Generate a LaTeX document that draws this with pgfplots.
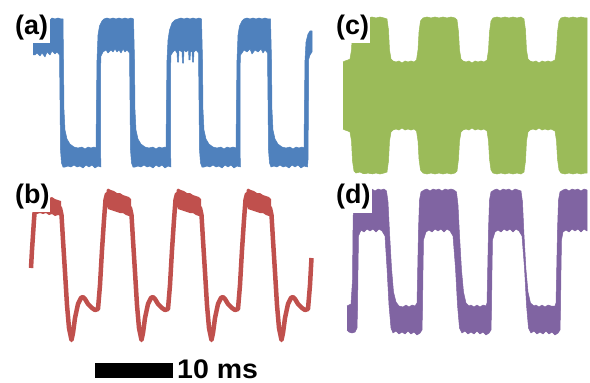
\documentclass[border=0pt]{standalone}
\usepackage{fontspec}
\setmainfont{Liberation Sans}
\usepackage{pgfplots}
\pgfplotsset{compat=1.18}
\definecolor{cblue}{RGB}{79,129,189}
\definecolor{cred}{RGB}{192,80,77}
\definecolor{cgreen}{RGB}{155,187,89}
\definecolor{cpurple}{RGB}{128,100,162}
\begin{document}
\begin{tikzpicture}
\useasboundingbox (0,0) rectangle (590bp,383bp);
\begin{axis}[at={(0,0)},anchor=south west,width=590bp,height=383bp,scale only axis,
  xmin=0,xmax=590,ymin=0,ymax=383,y dir=reverse,hide axis,clip=false]
% ---------- (a) blue ----------
\addplot[fill=cblue,draw=cblue,line width=0.5bp,line join=round] coordinates {
(33,21) (40,20) (50,20) (52,18) (55,19) (58,18) (61,19) (63,19)
(63.5,60) (64,110) (65,130) (67,139) (70,144) (74,147) (78,148) (82,147) (85,149) (88,147) (91,148) (94,147) (96,148)
(96.5,100) (97,60) (98,35) (99.5,26) (102,21) (104,19) (107,18) (110,19) (113,18) (116,19) (119,18) (122,19) (125,18) (128,19) (131,18) (133.5,19)
(134.5,60) (135,110) (136,130) (138,139) (141,144) (145,147) (149,148) (153,147) (156,149) (159,147) (162,148) (165,147) (166,148)
(166.5,100) (167,60) (168,40) (169.5,30) (172,23) (175,20) (178,19) (181,18) (184,19) (187,18) (190,19) (193,18) (196,19) (199,18) (201.5,19)
(202.5,60) (203,110) (204,130) (206,139) (209,144) (213,147) (217,148) (221,147) (224,149) (227,147) (230,148) (233,147) (236,148)
(236.5,100) (237,60) (238,35) (239.5,26) (242,21) (244,19) (247,18) (250,19) (253,18) (256,19) (259,18) (262,19) (265,18) (268,19) (270.5,19)
(271.5,60) (272,110) (273,130) (275,139) (278,144) (282,147) (286,148) (290,147) (293,149) (296,147) (299,148) (302,147) (304,148)
(304.5,100) (305,60) (306,42) (308,34) (310,31) (312,31)
(312,52) (310,55) (308.5,60) (308.5,100) (308,160) (307.5,167)
(304,166) (301,168) (298,165) (295,167) (292,165) (289,168) (286,166) (283,167) (280,165) (277,167) (274,166) (271,167)
(269.5,163) (268.5,150) (268,100) (267.5,53)
(265,50) (263,53) (261,49) (258,52) (255,50) (252,54) (250,49) (247,52) (244,50) (242,53) (240.5,55)
(240,70) (240,150) (240.5,167)
(237,166) (234,168) (231,165) (228,167) (225,165) (222,168) (219,166) (216,167) (213,165) (210,167) (207,166) (204,167) (202,167)
(200.5,163) (199.5,150) (199,100) (198.5,53)
(196,50) (194,52) (193.5,62) (192.5,62) (192,51) (190.5,52) (190,60) (189,60) (188.5,50) (186,52) (184,50) (183.5,63) (182.5,63) (182,52) (179,50) (178.5,62) (177.5,62) (177,53) (175,50) (173,52) (171,55)
(170.5,70) (170.5,150) (171,167)
(168,166) (165,168) (162,165) (159,167) (156,165) (153,168) (150,166) (147,167) (144,165) (141,167) (138,166) (135,167) (133,167)
(131.5,163) (130.5,150) (130,100) (129.5,53)
(127,50) (125,52) (123,49) (121,53) (119,50) (117,52) (115,49) (113,52) (111,50) (108,53) (106,50) (103,52) (101,56)
(100.5,70) (100.5,150) (101,167)
(98,166) (95,168) (92,165) (89,167) (86,165) (83,168) (80,166) (77,167) (74,165) (71,167) (68,166) (65,167) (63,167)
(61.5,163) (60.5,150) (60,100) (59.5,55)
(57,52) (55,54) (52,51) (50,55) (47,52) (45,57) (42,53) (40,56) (37,53) (35,55) (33,55)
};
% ---------- (b) red ----------
\addplot[cred,line width=4.5bp,line join=round] coordinates {
(31,268) (32,250) (34,220) (35.5,200) (37,194) (39,199) (49,203) (60,208) (61.5,215) (63,240) (65,272) (67,305) (69,328) (71.5,340) (73,333) (75,318) (78,304) (81,298) (83,297) (85,299) (88,304) (92,308) (95,310) (98,309)
(100,285) (102,250) (104,220) (105.5,200) (107,194) (109,199) (119,203) (130,208) (131.5,215) (133,240) (135,272) (137,305) (139,328) (141.5,340) (143,333) (145,318) (148,304) (151,298) (153,297) (155,299) (158,304) (162,308) (165,310) (168,309)
(170,285) (172,250) (174,220) (175.5,200) (177,194) (179,199) (189,203) (200,208) (201.5,215) (203,240) (205,272) (207,305) (209,328) (211.5,340) (213,333) (215,318) (218,304) (221,298) (223,297) (225,299) (228,304) (232,308) (235,310) (238,309)
(240,285) (242,250) (244,220) (245.5,200) (247,194) (249,199) (259,203) (270,208) (271.5,215) (273,240) (275,272) (277,305) (279,328) (281.5,340) (283,333) (285,318) (288,304) (291,298) (293,297) (295,299) (298,304) (302,308) (305,310) (308,309)
(310,285) (311.5,258)
};
\addplot[fill=cred,draw=none] coordinates {
(33,196) (37,195) (40,196) (43,197) (46,196) (49,198) (52,197) (55,199) (58,200) (61,201)
(61.5,216) (58,215) (55,216) (52,214) (49,215) (46,213) (43,214) (40,213) (37,214) (33,214)};
\addplot[fill=cred,draw=none] coordinates {
(106.5,190) (108,188.5) (111,190) (114,191) (117,193) (120,193) (123,195) (126,196) (129,197) (131,199)
(131.5,217) (129,216) (126,215) (123,213) (120,213) (117,212) (114,211) (111,210) (108,209) (106.5,205)};
\addplot[fill=cred,draw=none] coordinates {
(176.5,190) (178,188.5) (181,190) (184,191) (187,193) (190,193) (193,195) (196,196) (199,197) (201,199)
(201.5,217) (199,216) (196,215) (193,213) (190,213) (187,212) (184,211) (181,210) (178,209) (176.5,205)};
\addplot[fill=cred,draw=none] coordinates {
(246.5,190) (248,188.5) (251,190) (254,191) (257,193) (260,193) (263,195) (266,196) (269,197) (271,199)
(271.5,217) (269,216) (266,215) (263,213) (260,213) (257,212) (254,211) (251,210) (248,209) (246.5,205)};
% ---------- (c) green ----------
\addplot[fill=cgreen,draw=cgreen,line width=0.5bp] coordinates {
(343,62) (345,61) (348,60) (350,59) (351.5,50) (352.5,30) (354,20) (356,18) (360,19) (364,17) (368,18) (372,17) (376,18) (380,17) (384,18) (387,19) (388.5,30) (389.5,50) (391,59) (393,61) (396,62) (399,61) (402,63) (405,61) (408,62) (411,61) (414,62) (416.5,60) (418,50) (419,32) (420.5,21) (423,18) (427,17) (431,18) (435,17) (439,18) (443,17) (447,18) (451,17) (455,18) (457,20) (458.5,32) (459.5,50) (461,59) (463,61) (466,62) (469,61) (472,63) (475,61) (478,62) (481,61) (484,62) (487,60) (488.5,50) (489.5,32) (491,21) (493,18) (497,17) (501,18) (505,17) (509,18) (513,17) (517,18) (521,17) (524,19) (525.5,30) (526.5,50) (528,59) (530,61) (533,62) (536,61) (539,63) (542,61) (545,62) (548,61) (551,62) (555,60) (556.5,50) (557.5,32) (559,21) (561,18) (565,17) (569,18) (573,17) (577,18) (581,17) (585,18) (587,18)
(587,173) (585,173) (581,174) (577,173) (573,174) (569,173) (565,174) (561,173) (559,170) (557.5,159) (556.5,141) (555,131) (551,129) (548,130) (545,129) (542,130) (539,128) (536,130) (533,129) (530,130) (528,132) (526.5,141) (525.5,161) (524,172) (521,174) (517,173) (513,174) (509,173) (505,174) (501,173) (497,174) (493,173) (491,170) (489.5,159) (488.5,141) (487,131) (484,129) (481,130) (478,129) (475,130) (472,128) (469,130) (466,129) (463,130) (461,132) (459.5,141) (458.5,159) (457,171) (455,173) (451,174) (447,173) (443,174) (439,173) (435,174) (431,173) (427,174) (423,173) (420.5,170) (419,159) (418,141) (416.5,131) (414,129) (411,130) (408,129) (405,130) (402,128) (399,130) (396,129) (393,130) (391,132) (389.5,141) (388.5,161) (387,172) (384,173) (380,174) (376,173) (372,174) (368,173) (364,174) (360,172) (356,173) (354,171) (352.5,161) (351.5,141) (350,132) (348,131) (345,130) (343,129)
};
% ---------- (d) purple ----------
\addplot[fill=cpurple,draw=cpurple,line width=0.5bp,line join=round] coordinates {
(347,306) (349,305) (351,304) (352.5,280) (353,230) (353.5,200) (355,192) (357,190) (360,189) (363,191) (366,189) (369,190) (372,189) (375,191) (378,189) (381,190) (384,189) (386.5,191)
(388,202) (389.5,232) (391.5,268) (393.5,292) (396,302) (399,306) (403,307) (406,305) (409,307) (412,305) (415,306) (417,303)
(417.5,280) (418.5,230) (419.5,200) (421,192) (424,190) (427,189) (430,191) (433,189) (436,190) (439,189) (442,191) (445,189) (448,190) (451,189) (454,190) (456.5,192)
(458,205) (459.5,235) (461.5,270) (463.5,292) (466,303) (469,306) (471,305) (474,307) (477,305) (480,307) (483,305) (486,306) (487,303)
(487.5,280) (488.5,230) (489.5,200) (491,192) (494,190) (497,189) (500,191) (503,189) (506,190) (509,189) (512,191) (515,189) (518,190) (521,191)
(522.5,202) (524,235) (526,270) (528,292) (530.5,303) (534,306) (536,305) (539,307) (542,305) (545,307) (548,305) (551,306) (555,306) (556,303)
(556.5,280) (557.5,230) (558.5,200) (560,192) (563,190) (566,189) (569,191) (572,189) (575,190) (578,189) (581,191) (584,189) (587,190)
(587,231) (584,229) (581,232) (578,229) (575,231) (572,229) (569,232) (566,230) (563,232) (561.5,240) (561,270) (560.5,310) (560,330) (558,333) (555,335) (552,332) (549,334) (546,331) (543,334) (540,332) (537,334) (534,331) (531,333)
(528.5,328) (526.5,305) (524.5,268) (522,236) (519,231) (516,229) (513,232) (510,229) (507,231) (504,229) (501,232) (498,230) (495,232) (492.5,240) (492,270) (491.5,310) (491,330) (489,333) (486,335) (483,332) (480,334) (477,331) (474,334) (471,332) (468,334) (465,331) (462,333)
(459.5,328) (457.5,305) (455.5,268) (453,236) (450,231) (447,229) (444,232) (441,229) (438,231) (435,229) (432,232) (429,230) (426,232) (423.5,240) (423,270) (422.5,310) (422,330) (420,333) (417,335) (414,332) (411,334) (408,331) (405,334) (402,332) (399,334) (396,331) (393,333)
(391,328) (389,305) (387,268) (385,236) (382,231) (379,229) (376,232) (373,229) (370,231) (367,229) (364,232) (361,230) (358.5,236) (358,270) (357.5,310) (357,328) (355,332) (352,333) (349,332) (347,330)
};
% ---------- labels ----------
\fill[white] (axis cs:8,4) rectangle (axis cs:50,43);
\fill[white] (axis cs:8,174) rectangle (axis cs:50,212);
\fill[white] (axis cs:328,4) rectangle (axis cs:370,43);
\fill[white] (axis cs:328,174) rectangle (axis cs:372,213);
\node[anchor=base west,inner sep=0pt,font=\bfseries\fontsize{27}{27}\selectfont] at (axis cs:15,34.5) {(a)};
\node[anchor=base west,inner sep=0pt,font=\bfseries\fontsize{27}{27}\selectfont] at (axis cs:15,203) {(b)};
\node[anchor=base west,inner sep=0pt,font=\bfseries\fontsize{27}{27}\selectfont] at (axis cs:336,34.5) {(c)};
\node[anchor=base west,inner sep=0pt,font=\bfseries\fontsize{27}{27}\selectfont] at (axis cs:336,203) {(d)};
\fill[black] (axis cs:95,363) rectangle (axis cs:173,377.5);
\node[anchor=base west,inner sep=0pt,font=\bfseries\fontsize{27}{27}\selectfont] at (axis cs:177,378) {\scalebox{1.06}[1]{10 ms}};
\end{axis}
\end{tikzpicture}
\end{document}
